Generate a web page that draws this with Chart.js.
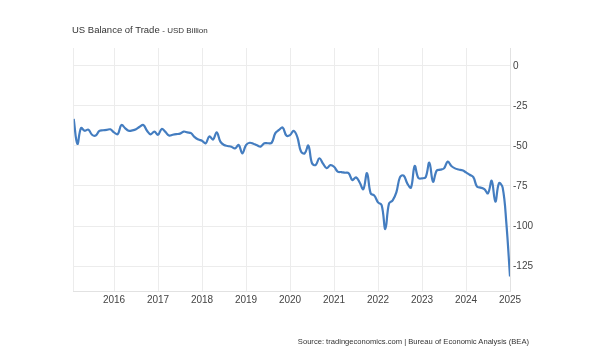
<!DOCTYPE html>
<html><head><meta charset="utf-8">
<script src="https://cdn.jsdelivr.net/npm/chart.js@4"></script>
<style>
html,body{margin:0;padding:0;background:#fff;}
#wrap{position:relative;width:604px;height:364px;overflow:hidden;font-family:"Liberation Sans",Arial,sans-serif;}
canvas{position:absolute;left:0;top:0;}
#title{position:absolute;left:72px;top:24px;font-size:9.5px;color:#333;white-space:nowrap;}
#title span{font-size:8px;}
#source{position:absolute;right:75px;top:337px;font-size:7.6px;color:#333;white-space:nowrap;}
</style></head>
<body><div id="wrap">
<canvas id="c" width="604" height="364"></canvas>
<div id="title">US Balance of Trade <span>- USD Billion</span></div>
<div id="source">Source: tradingeconomics.com | Bureau of Economic Analysis (BEA)</div>
</div>
<script>
// monthly series, Feb 2015 .. Jan 2025
const startYear = 2015, startMonth = 2;
const balance = [
 -33.1,-48.7,-38.8,-40.5,-39.8,-43.0,-43.5,-40.6,-40.2,-40.0,-39.6,
 -41.5,-42.7,-36.9,-38.8,-40.5,-40.3,-39.6,-38.0,-36.9,-40.5,-42.7,-41.0,
 -43.0,-39.4,-41.2,-43.5,-43.0,-42.6,-42.3,-41.0,-41.5,-42.0,-44.5,-46.0,
 -46.7,-48.3,-44.0,-46.0,-41.5,-47.3,-49.4,-50.0,-50.5,-51.5,-49.4,-54.6,
 -49.4,-48.0,-48.6,-49.6,-50.4,-48.3,-48.3,-48.0,-42.0,-40.0,-38.5,-43.5,
 -43.2,-40.5,-44.5,-53.5,-54.6,-49.8,-60.8,-61.9,-57.7,-61.0,-63.9,-62.0,
 -63.0,-66.0,-66.3,-66.7,-67.0,-71.3,-69.6,-72.8,-77.0,-67.0,-79.6,-81.0,
 -85.2,-87.0,-101.9,-86.0,-84.0,-79.0,-69.5,-68.5,-73.5,-76.0,-62.5,-70.0,
 -70.2,-69.5,-60.4,-72.3,-65.4,-64.8,-64.0,-59.8,-62.5,-64.0,-64.7,-65.2,
 -66.5,-68.0,-69.5,-75.4,-76.0,-77.0,-79.6,-71.7,-84.8,-73.3,-76.0,-98.0,
 -131.5
];
const yearTicks = [2016,2017,2018,2019,2020,2021,2022,2023,2024,2025];
const valueTicks = [0,-25,-50,-75,-100,-125];

const points = balance.map((v,i)=>({x: startYear + (startMonth-1+i)/12, y: v}));
const xMin = points[0].x, xMax = points[points.length-1].x;

new Chart(document.getElementById('c'), {
  type: 'line',
  data: { datasets: [{ data: points, borderColor: '#447dc0', borderWidth: 2.2, pointRadius: 0, tension: 0.4, fill: false }] },
  options: {
    responsive: false, animation: false,
    layout: { padding: { left: 73.7, top: 48, right: 0, bottom: 0 } },
    plugins: { legend: { display: false }, tooltip: { enabled: false } },
    scales: {
      x: {
        type: 'linear', min: xMin, max: xMax,
        afterBuildTicks: s => { s.ticks = [{value: xMin}].concat(yearTicks.map(v=>({value:v}))); },
        afterFit: s => { s.height = 73; },
        ticks: { padding: 3, color: '#444', font: { size: 10, family: '"Liberation Sans", Arial' },
                 callback: v => Number.isInteger(v) ? String(v) : '', maxRotation: 0, autoSkip: false },
        grid: { color: '#ececec', drawTicks: false },
        border: { color: '#e2e2e2' }
      },
      y: {
        position: 'right', min: -140.6, max: 11.2,
        afterBuildTicks: s => { s.ticks = valueTicks.map(v=>({value:v})); },
        afterFit: s => { s.width = 94; },
        ticks: { padding: 3, color: '#444', font: { size: 10, family: '"Liberation Sans", Arial' } },
        grid: { color: '#ececec', drawTicks: false },
        border: { color: '#e2e2e2' }
      }
    }
  }
});
</script>
</body></html>
